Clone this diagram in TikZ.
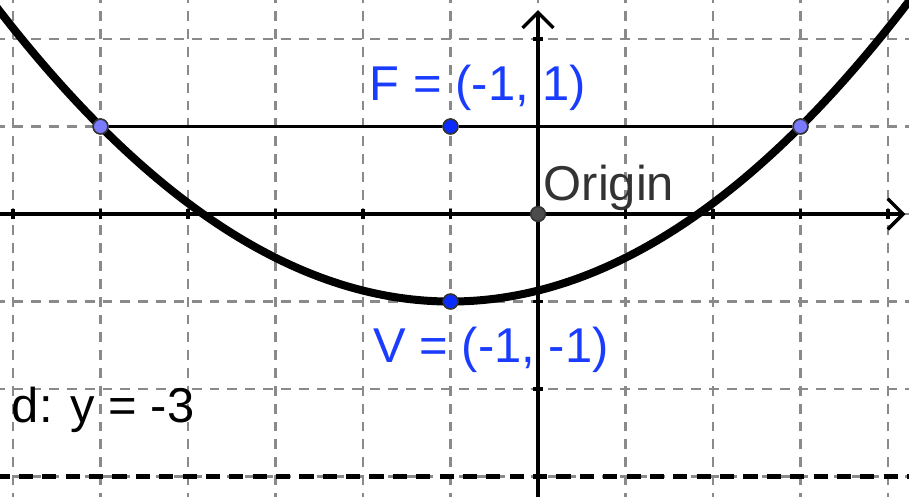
\documentclass[tikz,border=0pt]{standalone}
\usepackage{fontspec}
\setmainfont{Liberation Sans}
\usetikzlibrary{arrows.meta}
\definecolor{gridgray}{HTML}{8A8A8A}
\definecolor{lblblue}{HTML}{1A3CFF}
\definecolor{ptblue}{HTML}{0A2BFF}
\definecolor{ptlav}{HTML}{7A7AFF}
\definecolor{txtgray}{HTML}{333333}
\tikzset{
  gridline/.style={gridgray, line width=0.7pt, dash pattern=on 3.2pt off 2.6pt},
  axisline/.style={black, line width=1.1pt},
  tickmark/.style={black, line width=1.1pt},
  curveline/.style={black, line width=2.6pt},
  chordline/.style={black, line width=1.1pt},
  directrix/.style={black, line width=1.5pt, dash pattern=on 4.6pt off 3pt},
  pt/.style={circle, draw=black!80, line width=0.5pt, inner sep=0pt, minimum size=4.8pt},
  lbl/.style={font=\fontsize{15.9pt}{18pt}\selectfont, inner sep=0pt}
}
\begin{document}
\begin{tikzpicture}
\useasboundingbox (-6.149,-3.234) rectangle (4.24,2.446);
\clip (-6.149,-3.234) rectangle (4.24,2.446);
% grid
\foreach \x in {-6,...,4} \draw[gridline] (\x,-3.3) -- (\x,2.5);
\foreach \y in {-3,...,2} \draw[gridline] (-6.2,\y) -- (4.3,\y);
% directrix
\draw[directrix] (-6.2,-3) -- (4.3,-3);
% axes
\coordinate (xl) at (-6.2,0);
\coordinate (xr) at (4.2,0);
\coordinate (yb) at (0,-3.3);
\coordinate (yt) at (0,2.33);
\draw[axisline, -{Straight Barb[length=5pt, width=10pt, line width=1.1pt]}] (xl) -- (xr);
\draw[axisline, -{Straight Barb[length=5pt, width=10pt, line width=1.1pt]}] (yb) -- (yt);
\foreach \x in {-6,...,-1,1,2,3,4} \draw[tickmark] (\x,-0.06) -- (\x,0.06);
\foreach \y in {-3,...,-1,1,2} \draw[tickmark] (-0.06,\y) -- (0.06,\y);
% parabola
\draw[curveline, domain=-6.3:4.4, samples=120, smooth] plot (\x,{(\x+1)^2/8-1});
% points
\node[pt, fill=ptlav] (A) at (-5,1) {};
\node[pt, fill=ptlav] (B) at (3,1) {};
\node[pt, fill=ptblue] (F) at (-1,1) {};
\node[pt, fill=ptblue] (V) at (-1,-1) {};
\node[pt, fill=black!70] (O) at (0,0) {};
\draw[chordline] (A) -- (F);
\draw[chordline] (F) -- (B);
\node[pt, fill=ptlav] at (A) {};
\node[pt, fill=ptlav] at (B) {};
\node[pt, fill=ptblue] at (F) {};
\node[pt, fill=ptblue] at (V) {};
% labels
\node[lbl, text=lblblue] (Flbl) at (-0.686,1.44) {F = (-1, 1)};
\node[lbl, text=lblblue] (Vlbl) at (-0.537,-1.554) {V = (-1, -1)};
\node[lbl, text=txtgray] (Olbl) at (0.811,0.297) {Origin};
\node[lbl, text=black] (dlbl) at (-4.97,-2.24) {d: y = -3};
\end{tikzpicture}
\end{document}
